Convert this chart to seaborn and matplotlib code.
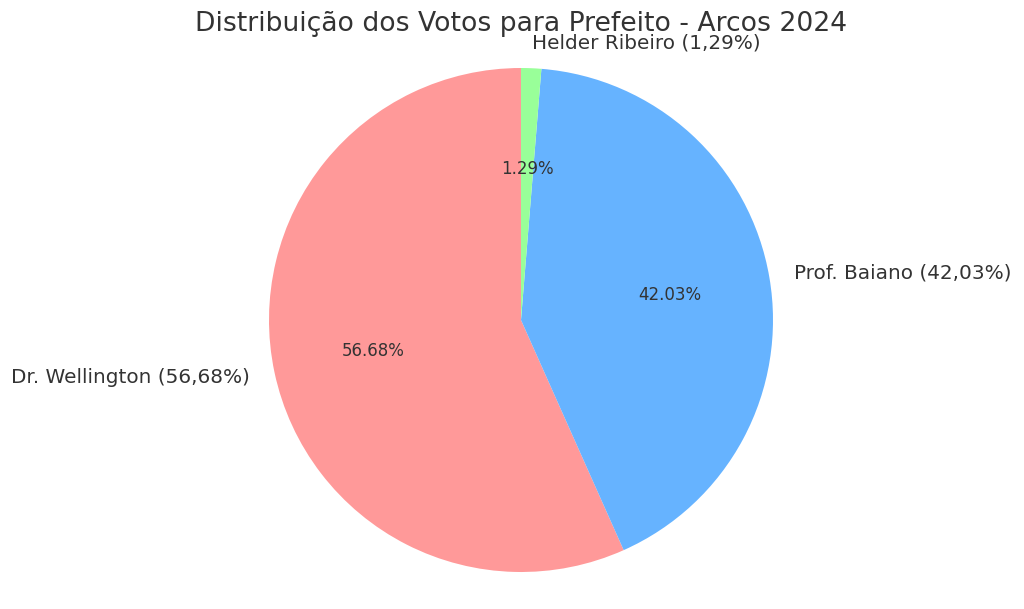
import matplotlib
matplotlib.use("Agg")
import matplotlib.pyplot as plt
import seaborn as sns

candidatos = ["Dr. Wellington", "Prof. Baiano", "Helder Ribeiro"]
percentuais = [56.68, 42.03, 1.29]
rotulos = ["Dr. Wellington (56,68%)", "Prof. Baiano (42,03%)", "Helder Ribeiro (1,29%)"]
cores = ["#ff9999", "#66b3ff", "#99ff99"]

sns.set_style("white")
plt.rcParams['font.family'] = ['DejaVu Sans']
plt.rcParams['text.color'] = '#333333'

fig = plt.figure(figsize=(10.24, 6.09), dpi=100)
# square axes so the pie sits where it does in the reference
ax = fig.add_axes([206 / 1024, -26 / 609, 630 / 1024, 630 / 609])
ax.pie(percentuais, labels=rotulos, colors=cores, autopct='%1.2f%%',
       startangle=90, textprops={'fontsize': 14.4},
       wedgeprops={'linewidth': 0, 'edgecolor': 'none'})
for t in ax.texts:
    if t.get_text().endswith('%') and '(' not in t.get_text():
        t.set_fontsize(12)
ax.set_xlim(-1.25, 1.25)
ax.set_ylim(-1.25, 1.25)
ax.set_aspect('auto')
ax.axis('off')

fig.text(521 / 1024, 1 - 24 / 609, "Distribuição dos Votos para Prefeito - Arcos 2024",
         ha='center', va='center', fontsize=19.2)

fig.savefig("out.png", dpi=100)
